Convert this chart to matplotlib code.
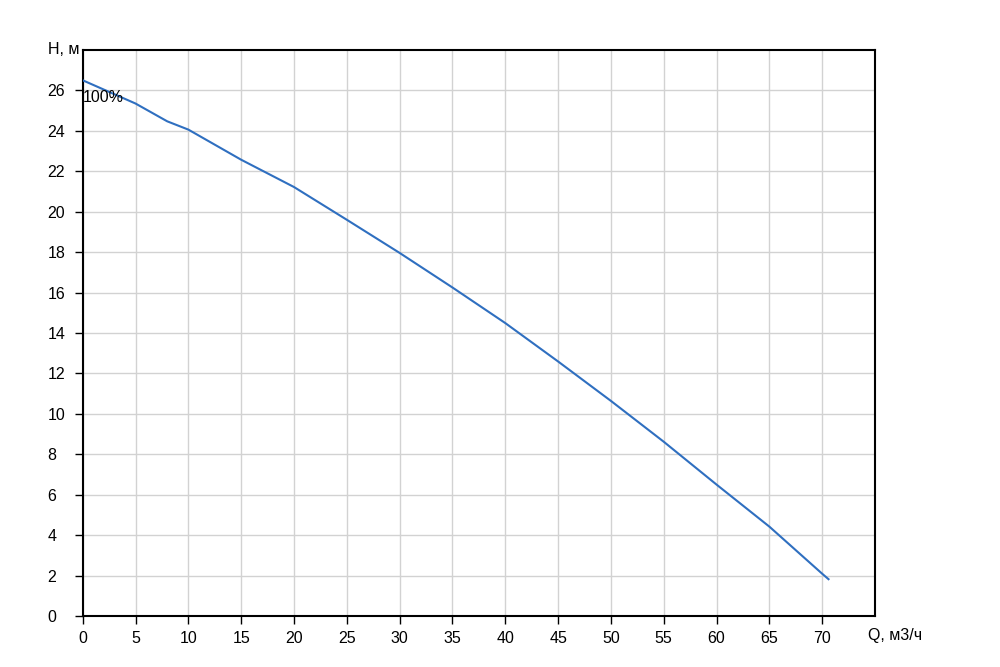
import matplotlib

matplotlib.use("Agg")

import matplotlib.pyplot as plt  # noqa: E402
from matplotlib.transforms import blended_transform_factory  # noqa: E402

# pump curve: flow Q (m3/h) vs head H (m)
flow = [0, 5, 8, 10, 15, 20, 25, 30, 35, 40, 45, 50, 55, 60, 65, 70, 70.6]
head = [26.5, 25.35, 24.47, 24.06, 22.57, 21.22, 19.6, 17.96, 16.25, 14.49,
        12.59, 10.64, 8.62, 6.5, 4.42, 2.09, 1.82]

x_ticks = list(range(0, 75, 5))
y_ticks = list(range(0, 28, 2))
curve_label = "100%"
x_title = "Q, м3/ч"
y_title = "H, м"

plt.rcParams["font.family"] = ["Liberation Sans", "DejaVu Sans"]

fig = plt.figure(figsize=(10.0, 6.67), dpi=100)
ax = fig.add_axes([0.0827, 0.0765, 0.7923, 0.8486])

ax.plot(flow, head, color="#2f6fc0", linewidth=1.5, zorder=3)
ax.text(0, 26, curve_label, ha="left", va="top", fontsize=11.5, zorder=4)

ax.set_xlim(0, 75)
ax.set_ylim(0, 28)
ax.set_xticks(x_ticks)
ax.set_yticks(y_ticks)
ax.tick_params(direction="out", length=6, width=1, labelsize=11.5,
               color="black")
ax.tick_params(axis="x", pad=5)
# y labels are flush left in the reference
ax.tick_params(axis="y", pad=19.5)
for label in ax.get_yticklabels():
    label.set_horizontalalignment("left")
ax.grid(True, color="#d2d2d2", linewidth=1.0)
ax.set_axisbelow(True)
for spine in ax.spines.values():
    spine.set_linewidth(1.5)
    spine.set_color("black")

# axis titles sit where the next tick label would be
bx = blended_transform_factory(ax.transData, ax.transAxes)
ax.text(74.3, -0.0345, x_title, transform=bx, ha="left", va="center",
        fontsize=11.5)
by = blended_transform_factory(fig.transFigure, ax.transData)
ax.text(0.048, 28, y_title, transform=by, ha="left", va="center",
        fontsize=11.5)

fig.savefig("out.png", dpi=100)
plt.close(fig)
